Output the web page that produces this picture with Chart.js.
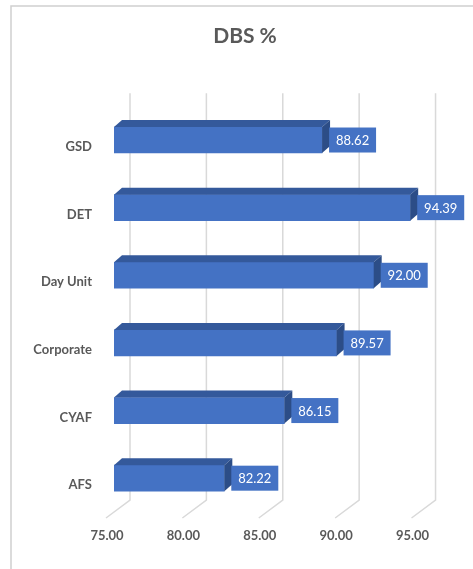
<!DOCTYPE html>
<html>
<head>
<meta charset="utf-8">
<script src="https://cdn.jsdelivr.net/npm/chart.js@4/dist/chart.umd.min.js"></script>
<style>
  html, body { margin: 0; padding: 0; background: #ffffff; }
  #wrap { position: relative; width: 473px; height: 569px; }
</style>
</head>
<body>
<div id="wrap"><canvas id="c" width="473" height="569"></canvas></div>
<script>
const categories = ["GSD", "DET", "Day Unit", "Corporate", "CYAF", "AFS"];
const values = [88.62, 94.39, 92.00, 89.57, 86.15, 82.22];
const tickValues = [75, 80, 85, 90, 95];
const titleText = "DBS %";

const FRONT = "#4472C4";
const TOP = "#34599B";
const SIDE = "#2C4D87";
const GRID = "#D9D9D9";
const TEXT = "#595959";
const FONT = "Lato, 'Open Sans', sans-serif";

const DEPTH_X = 8, DEPTH_Y = -7;       // bar depth
const BACK_X = 16, BACK_TOP = -13, BACK_BOTTOM = -12; // back wall offsets
const FLOOR_DX = -24, FLOOR_DY = 18;   // floor diagonal

const frame = {
  id: "frame",
  beforeDraw(chart) {
    const ctx = chart.ctx;
    ctx.save();
    ctx.strokeStyle = "#D0D0D0";
    ctx.lineWidth = 1.5;
    ctx.beginPath();
    ctx.moveTo(11, chart.height);
    ctx.lineTo(11, 6);
    ctx.lineTo(chart.width, 6);
    ctx.stroke();
    ctx.restore();
  }
};

const grid3d = {
  id: "grid3d",
  beforeDatasetsDraw(chart) {
    const ctx = chart.ctx, xs = chart.scales.x, area = chart.chartArea;
    ctx.save();
    ctx.strokeStyle = GRID;
    ctx.lineWidth = 1.5;
    tickValues.forEach(v => {
      const px = xs.getPixelForValue(v) + BACK_X;
      const yTop = area.top + BACK_TOP;
      const yBot = area.bottom + BACK_BOTTOM;
      ctx.beginPath();
      ctx.moveTo(px, yTop);
      ctx.lineTo(px, yBot);
      ctx.lineTo(px + FLOOR_DX, yBot + FLOOR_DY);
      ctx.stroke();
    });
    ctx.restore();
  }
};

const bars3d = {
  id: "bars3d",
  afterDatasetsDraw(chart) {
    const ctx = chart.ctx;
    const xs = chart.scales.x;
    const basePx = xs.getPixelForValue(xs.min);
    const meta = chart.getDatasetMeta(0);
    ctx.save();
    meta.data.forEach((bar, i) => {
      const p = bar.getProps(["x", "y", "height"], true);
      const top = p.y - p.height / 2, bot = p.y + p.height / 2;
      // top face
      ctx.fillStyle = TOP;
      ctx.beginPath();
      ctx.moveTo(basePx, top);
      ctx.lineTo(basePx + DEPTH_X, top + DEPTH_Y);
      ctx.lineTo(p.x + DEPTH_X, top + DEPTH_Y);
      ctx.lineTo(p.x, top);
      ctx.closePath();
      ctx.fill();
      // side face
      ctx.fillStyle = SIDE;
      ctx.beginPath();
      ctx.moveTo(p.x, top);
      ctx.lineTo(p.x + DEPTH_X, top + DEPTH_Y);
      ctx.lineTo(p.x + DEPTH_X, bot + DEPTH_Y);
      ctx.lineTo(p.x, bot);
      ctx.closePath();
      ctx.fill();
      // data label box
      const bx = p.x + 7, bw = 47, bh = 25;
      ctx.fillStyle = FRONT;
      ctx.fillRect(bx, p.y - bh / 2, bw, bh);
      ctx.fillStyle = "#FFFFFF";
      ctx.font = "13px " + FONT;
      ctx.textAlign = "center";
      ctx.textBaseline = "middle";
      ctx.fillText(values[i].toFixed(2), bx + bw / 2, p.y + 1);
    });
    ctx.restore();
  }
};

new Chart(document.getElementById("c"), {
  type: "bar",
  data: {
    labels: categories,
    datasets: [{
      data: values,
      backgroundColor: FRONT,
      borderWidth: 0,
      barThickness: 26
    }]
  },
  options: {
    indexAxis: "y",
    responsive: false,
    animation: false,
    layout: { padding: { left: 17, right: 0, top: 0, bottom: 0 } },
    plugins: {
      legend: { display: false },
      tooltip: { enabled: false },
      title: {
        display: true,
        text: titleText,
        color: TEXT,
        font: { family: FONT, size: 21, weight: "bold", lineHeight: 1.2 },
        padding: { top: 24, bottom: 57 }
      }
    },
    scales: {
      x: {
        type: "linear",
        min: 75,
        max: 98.5,
        grid: { display: false, drawTicks: false },
        border: { display: false },
        afterFit(axis) { axis.height = 57; },
        afterBuildTicks(axis) { axis.ticks = tickValues.map(v => ({ value: v })); },
        ticks: {
          includeBounds: false,
          stepSize: 5,
          labelOffset: -7,
          padding: 16,
          color: TEXT,
          font: { family: FONT, size: 13, weight: "bold" },
          callback: v => Number(v).toFixed(2)
        }
      },
      y: {
        grid: { display: false, drawTicks: false },
        border: { display: false },
        afterFit(axis) { axis.width = 97; },
        ticks: {
          labelOffset: 7,
          padding: 22,
          color: TEXT,
          font: { family: FONT, size: 13, weight: "bold" }
        }
      }
    }
  },
  plugins: [frame, grid3d, bars3d]
});
</script>
</body>
</html>
